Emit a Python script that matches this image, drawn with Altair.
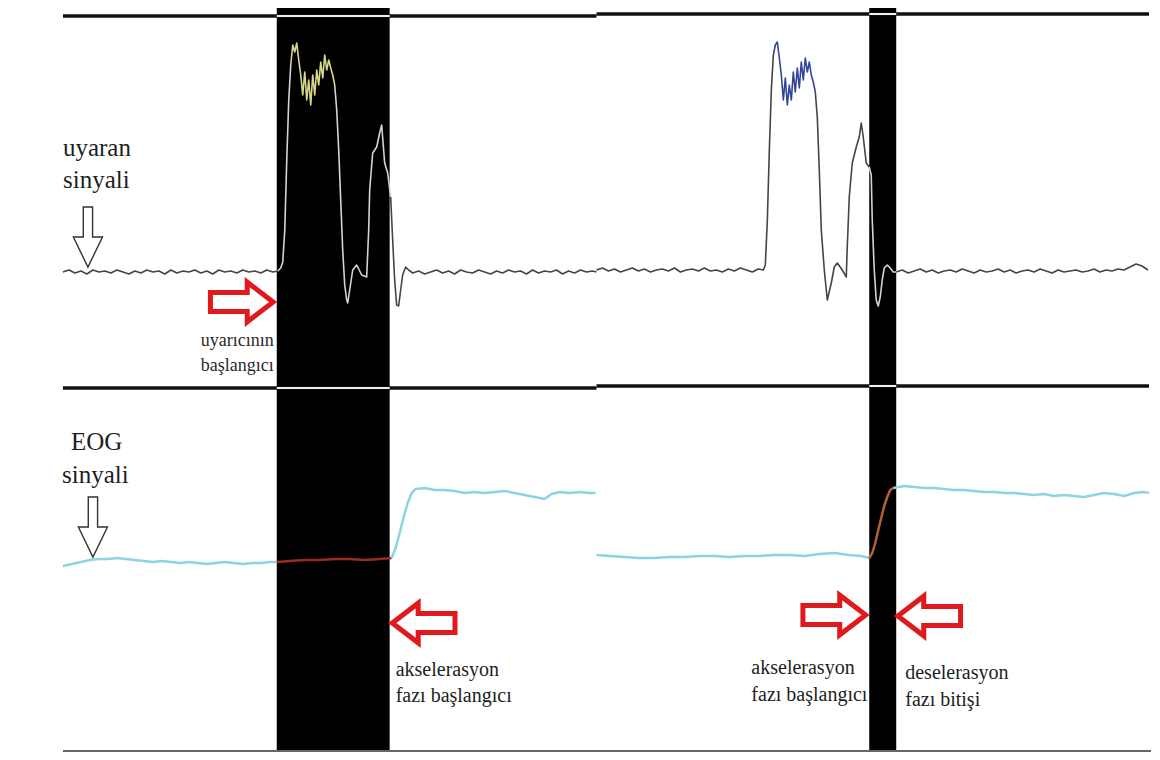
import altair as alt
import pandas as pd

# ---------------- data (image pixel units) ----------------
# shaded (black) analysis windows
band_start = [277, 870]
band_end = [390, 897]
band_top = [8, 8]
band_bottom = [752, 752]

# horizontal separator lines
rule_x0 = [63, 597, 63, 597]
rule_x1 = [597, 1150, 597, 1150]
rule_y = [16, 14, 388, 386]
bottom_x0 = [63]
bottom_x1 = [1152]
bottom_y = [751]
inband_x0 = [277, 870, 277, 870]
inband_x1 = [390, 897, 390, 897]
inband_y = [16, 14, 388, 386]

# stimulus signal (uyaran sinyali), split into coloured pieces
s1_t = [63,69,75,81,87,93,99,105,111,117,123,129,135,141,147,153,159,165,171,177,183,189,195,201,207,213,219,225,231,237,243,249,255,261,267,273,278]
s1_v = [272,270,273,271,274,270,272,271,273,270,272,274,271,273,270,272,271,274,270,273,271,272,270,273,271,274,270,272,271,273,270,272,271,273,270,272,271]
s2_t = [278,281,283,285,287,289,291]
s2_v = [271,268,262,230,160,100,65]
y1_t = [291,293,295,297,299,301,303,305,307,309,311,313,315,317,319,321,323,325,327,329,331,333,335]
y1_v = [65,45,52,43,60,75,95,72,100,80,105,75,95,70,85,62,78,55,70,60,68,75,85]
s2b_t = [335,337,339,341,343,345,347,348,350,353,357,362,367,369,370,373,377,380,382,385,388,391]
s2b_v = [85,110,150,200,250,285,300,303,290,270,265,275,277,230,190,153,147,133,125,163,173,197]
s3_t = [391,393,395,397,399,401,403,406,409,413,419,425,431,437,443,449,455,461,467,473,479,485,491,497,503,509,515,521,527,533,539,545,551,557,563,569,575,581,587,593,597]
s3_v = [197,240,280,305,306,290,275,267,270,273,271,274,272,270,273,271,274,270,272,273,270,272,274,271,273,270,272,271,274,270,273,271,272,270,274,271,273,270,272,271,272]
s4_t = [597,603,609,615,621,627,633,639,645,651,657,663,669,675,681,687,693,699,705,711,717,723,729,735,741,747,753,759,764,766,768,770,772,774]
s4_v = [270,268,271,269,272,270,268,271,269,272,270,269,271,268,272,270,269,271,268,271,270,272,269,271,268,270,272,269,270,265,220,150,90,55]
b1_t = [774,776,778,780,782,784,786,788,790,792,794,796,798,800,802,804,806,808,810,812,814,816]
b1_v = [55,45,42,58,75,100,78,105,85,100,72,92,68,88,62,80,58,72,62,75,82,92]
s4b_t = [816,818,820,822,825,828,832,835,838,843,847,848,850,853,857,860,862,864,867,870]
s4b_v = [92,117,170,230,270,300,283,267,263,270,277,247,197,163,147,137,123,137,163,167]
s5_t = [870,872,873,875,877,879,881,883,885,888,891,894,897]
s5_v = [167,175,220,270,300,306,297,280,268,265,268,272,272]
s6_t = [897,903,909,915,921,927,933,939,945,951,957,963,969,975,981,987,993,999,1005,1011,1017,1023,1029,1035,1041,1047,1053,1059,1065,1071,1077,1083,1089,1095,1101,1107,1113,1119,1125,1131,1137,1143,1149]
s6_v = [272,270,273,271,269,272,270,273,271,270,272,269,271,273,270,272,271,269,272,270,273,271,270,272,269,271,273,270,272,271,270,272,271,269,272,270,271,269,270,267,264,266,270]

# EOG signal
e1_t = [63,72,81,90,99,108,117,126,135,144,153,162,171,180,189,198,207,216,225,234,243,252,261,270,277]
e1_v = [566,564,562,560,559,559,558,559,560,561,562,561,562,563,562,563,564,563,562,563,564,563,563,562,562]
e2_t = [277,290,305,320,335,350,365,380,392]
e2_v = [562,561,560,560,559,559,560,559,558]
e3_t = [392,396,400,404,408,412,416,425,435,445,455,465,475,485,495,505,515,525,535,545,552,560,570,580,590,596]
e3_v = [558,548,533,517,503,493,489,488,490,490,491,493,492,493,492,491,493,495,497,499,494,492,493,492,493,493]
e4_t = [597,610,625,640,655,670,685,700,715,730,745,760,775,790,805,820,835,850,862,870]
e4_v = [555,556,557,558,558,557,557,556,556,557,556,556,555,555,556,554,553,555,556,558]
e5_t = [870,873,876,879,882,885,888,891,894]
e5_v = [558,553,543,530,518,506,497,490,488]
e6_t = [894,905,915,925,935,945,955,965,975,985,995,1005,1015,1025,1035,1045,1055,1065,1075,1085,1095,1105,1115,1125,1135,1145,1150]
e6_v = [488,486,487,488,488,489,490,490,491,492,492,493,493,494,495,494,496,495,496,497,495,493,494,496,493,492,493]

# labels
big_text = ["uyaran", "sinyali", "EOG", "sinyali"]
big_x = [63, 63, 71, 62]
big_y = [156, 188, 450, 483]
small_text = ["uyarıcının", "başlangıcı"]
small_x = [274, 274]
small_y = [346, 371]
phase_text = ["akselerasyon", "fazı başlangıcı", "akselerasyon", "fazı başlangıcı", "deselerasyon", "fazı bitişi"]
phase_x = [396, 396, 752, 752, 906, 906]
phase_y = [676, 702, 674, 701, 679, 706]

# arrows (centre positions)
red_right_x = [242, 835]
red_right_y = [302, 615]
red_left_x = [424, 930]
red_left_y = [623, 616]
down_x = [88, 93]
down_y = [237, 527]

# ---------------- build tables ----------------
def seg_rows(name, ts, vs):
    return [{"t": t, "v": v, "seg": name, "i": k} for k, (t, v) in enumerate(zip(ts, vs))]

top_df = pd.DataFrame(
    seg_rows("s1", s1_t, s1_v) + seg_rows("s2", s2_t, s2_v) + seg_rows("y1", y1_t, y1_v)
    + seg_rows("s2b", s2b_t, s2b_v) + seg_rows("s3", s3_t, s3_v) + seg_rows("s4", s4_t, s4_v)
    + seg_rows("b1", b1_t, b1_v) + seg_rows("s4b", s4b_t, s4b_v) + seg_rows("s5", s5_t, s5_v)
    + seg_rows("s6", s6_t, s6_v)
)
eog_df = pd.DataFrame(
    seg_rows("e1", e1_t, e1_v) + seg_rows("e2", e2_t, e2_v) + seg_rows("e3", e3_t, e3_v)
    + seg_rows("e4", e4_t, e4_v) + seg_rows("e5", e5_t, e5_v) + seg_rows("e6", e6_t, e6_v)
)
bands_df = pd.DataFrame({"x0": band_start, "x1": band_end, "y0": band_top, "y1": band_bottom})
rules_df = pd.DataFrame({"x0": rule_x0, "x1": rule_x1, "y": rule_y})
bottom_df = pd.DataFrame({"x0": bottom_x0, "x1": bottom_x1, "y": bottom_y})
inband_df = pd.DataFrame({"x0": inband_x0, "x1": inband_x1, "y": inband_y})
big_df = pd.DataFrame({"label": big_text, "x": big_x, "y": big_y})
small_df = pd.DataFrame({"label": small_text, "x": small_x, "y": small_y})
phase_df = pd.DataFrame({"label": phase_text, "x": phase_x, "y": phase_y})
rr_df = pd.DataFrame({"x": red_right_x, "y": red_right_y})
rl_df = pd.DataFrame({"x": red_left_x, "y": red_left_y})
down_df = pd.DataFrame({"x": down_x, "y": down_y})

XS = alt.Scale(domain=[8, 1152], nice=False, zero=False)
YS = alt.Scale(domain=[8, 752], nice=False, zero=False, reverse=True)

def X(f):
    return alt.X(f"{f}:Q", scale=XS, axis=None)

def Y(f):
    return alt.Y(f"{f}:Q", scale=YS, axis=None)

DARK, LIGHT, YEL, BLUE = "#454545", "#d4d4d4", "#d8d88a", "#33449a"
CYAN, RED, ORANGE = "#8dd3e3", "#9b2a22", "#b5612f"
SEG_SCALE = alt.Scale(
    domain=["s1", "s2", "y1", "s2b", "s3", "s4", "b1", "s4b", "s5", "s6",
            "e1", "e2", "e3", "e4", "e5", "e6"],
    range=[DARK, LIGHT, YEL, LIGHT, DARK, DARK, BLUE, DARK, LIGHT, DARK,
           CYAN, RED, CYAN, CYAN, ORANGE, CYAN])

BLOCK_ARROW = "M -0.98 -0.3 L 0.17 -0.3 L 0.17 -0.62 L 0.98 0 L 0.17 0.62 L 0.17 0.3 L -0.98 0.3 Z"
THIN_ARROW = "M -0.97 -0.15 L 0.0 -0.15 L 0.0 -0.47 L 0.97 0 L 0.0 0.47 L 0.0 0.15 L -0.97 0.15 Z"
SERIF = "Liberation Serif"

bands = alt.Chart(bands_df).mark_rect(color="black").encode(
    x=X("x0"), x2="x1:Q", y=Y("y0"), y2="y1:Q")

rules = alt.Chart(rules_df).mark_rule(color="#111111", strokeWidth=3.5).encode(
    x=X("x0"), x2="x1:Q", y=Y("y"))
bottom = alt.Chart(bottom_df).mark_rule(color="#666666", strokeWidth=2).encode(
    x=X("x0"), x2="x1:Q", y=Y("y"))
inband = alt.Chart(inband_df).mark_rule(color="#eeeeee", strokeWidth=2).encode(
    x=X("x0"), x2="x1:Q", y=Y("y"))

top_line = alt.Chart(top_df).mark_line(strokeWidth=1.6, strokeJoin="round").encode(
    x=X("t"), y=Y("v"),
    color=alt.Color("seg:N", legend=None, scale=SEG_SCALE),
    detail="seg:N", order="i:Q")

eog_line = alt.Chart(eog_df).mark_line(strokeWidth=2.5, strokeJoin="round").encode(
    x=X("t"), y=Y("v"),
    color=alt.Color("seg:N", legend=None, scale=SEG_SCALE),
    detail="seg:N", order="i:Q")

red_right = alt.Chart(rr_df).mark_point(
    shape=BLOCK_ARROW, size=4096, filled=True, fill="white", stroke="#e0191e",
    strokeWidth=5, opacity=1, fillOpacity=1, angle=0).encode(x=X("x"), y=Y("y"))
red_left = alt.Chart(rl_df).mark_point(
    shape=BLOCK_ARROW, size=4096, filled=True, fill="white", stroke="#e0191e",
    strokeWidth=5, opacity=1, fillOpacity=1, angle=180).encode(x=X("x"), y=Y("y"))
down_arrows = alt.Chart(down_df).mark_point(
    shape=THIN_ARROW, size=3844, filled=True, fill="white", stroke="#333333",
    strokeWidth=1.4, opacity=1, fillOpacity=1, angle=90).encode(x=X("x"), y=Y("y"))

big_lbl = alt.Chart(big_df).mark_text(
    font=SERIF, fontSize=25, align="left", baseline="alphabetic", color="#1e1e1e").encode(
    x=X("x"), y=Y("y"), text="label:N")
small_lbl = alt.Chart(small_df).mark_text(
    font=SERIF, fontSize=18, align="right", baseline="alphabetic", color="#2a2a2a").encode(
    x=X("x"), y=Y("y"), text="label:N")
phase_lbl = alt.Chart(phase_df).mark_text(
    font=SERIF, fontSize=20, align="left", baseline="alphabetic", color="#1e1e1e").encode(
    x=X("x"), y=Y("y"), text="label:N")

chart = alt.layer(
    bands, rules, bottom, inband, top_line, eog_line,
    red_right, red_left, down_arrows, big_lbl, small_lbl, phase_lbl
).properties(
    width=1144, height=744, padding=0, background="white",
    autosize=alt.AutoSizeParams(type="fit", contains="padding")
).configure_view(stroke=None)

chart.save("out.html", embed_options={"renderer": "svg", "actions": False})
